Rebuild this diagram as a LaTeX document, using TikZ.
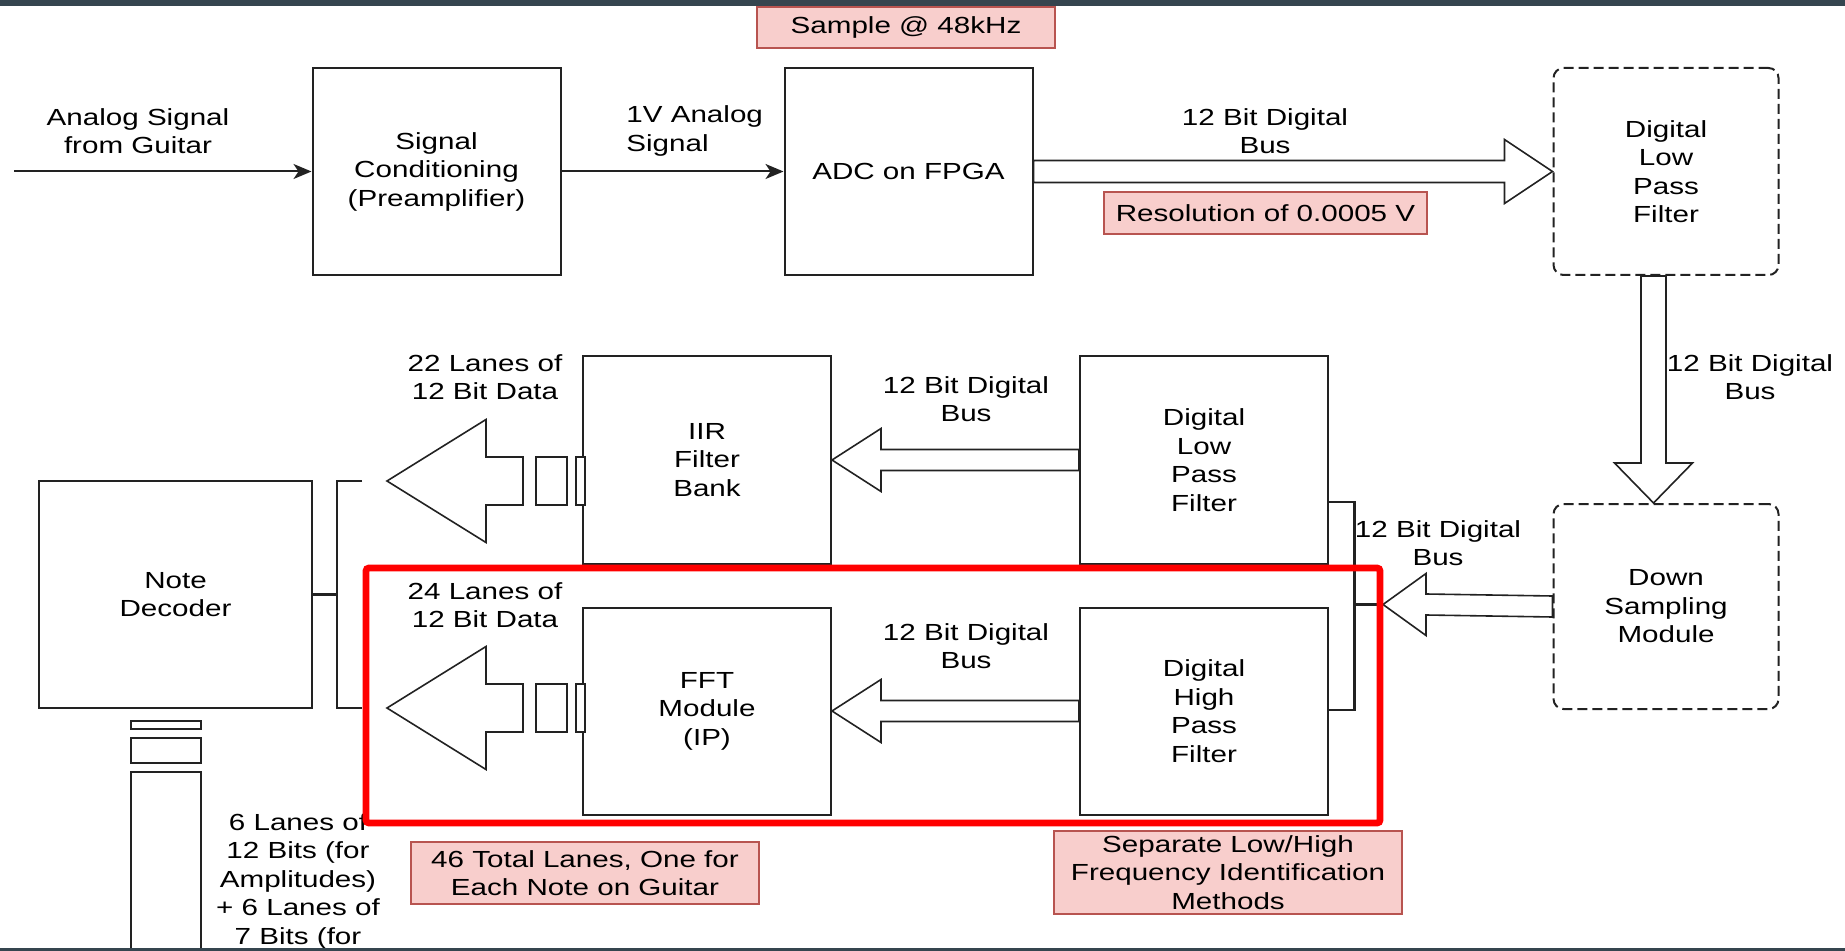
\documentclass[tikz,border=0pt]{standalone}
\usepackage{fontspec}
\setmainfont{Liberation Sans}[FakeStretch=1.27]
\usetikzlibrary{arrows.meta,positioning,calc}
\definecolor{notefill}{HTML}{F8CECC}
\definecolor{noteline}{HTML}{B85450}
\definecolor{barcol}{HTML}{35454F}
\definecolor{inkcol}{HTML}{222222}
\tikzset{
  block/.style ={rectangle,draw=inkcol,line width=1pt,fill=white,minimum width=124pt,
                 minimum height=103.5pt,align=center,inner sep=1pt},
  dblock/.style={block,minimum width=112.5pt,rounded corners=5pt,
                 dash pattern=on 5pt off 2.5pt},
  remark/.style={rectangle,draw=noteline,line width=0.8pt,fill=notefill,
                 align=center,inner sep=1pt},
  lbl/.style   ={align=center,inner sep=0pt},
  arr/.style   ={-{Stealth[length=9pt,width=7.5pt,inset=2.5pt]},line width=1pt,draw=inkcol},
  bus/.style   ={draw=inkcol,line width=0.8pt,fill=white,line join=miter},
  brk/.style   ={draw=inkcol,line width=1.4pt},
  hilite/.style={draw=red,line width=3.4pt,rounded corners=1.5pt}
}
\begin{document}
\begin{tikzpicture}[x=0.5pt,y=-0.5pt,font=\fontsize{11.65pt}{14.25pt}\selectfont]
  \useasboundingbox[fill=white] (0,0) rectangle (1845,951);

  % Nodes
  \node (sc)   [block] at (436.5,171.5)       {Signal\\Conditioning\\(Preamplifier)};
  \node (adc)  [block, right=111pt of sc]     {ADC on FPGA};
  \node (lpfa) [dblock, right=259.5pt of adc] {Digital\\Low\\Pass\\Filter};
  \node (down) [dblock, minimum height=102.5pt, below=113.5pt of lpfa] {Down\\Sampling\\Module};
  \node (lpfb) [block] at (1204,460)          {Digital\\Low\\Pass\\Filter};
  \node (hpf)  [block, below=21pt of lpfb]    {Digital\\High\\Pass\\Filter};
  \node (iir)  [block, left=123.5pt of lpfb]  {IIR\\Filter\\Bank};
  \node (fft)  [block, left=123.5pt of hpf]   {FFT\\Module\\(IP)};
  \node (dec)  [block, minimum width=136.5pt, minimum height=113.5pt] at (175.5,594.5) {Note\\Decoder};

  % Remarks
  \node (rate) [remark, minimum width=149pt, minimum height=20.5pt] at (906,27.5) {Sample @ 48kHz};
  \node (res)  [remark, minimum width=161.5pt, minimum height=21pt] at (1265.5,213) {Resolution of 0.0005 V};
  \node (tot)  [remark, minimum width=174pt, minimum height=31pt] at (585,873) {46 Total Lanes, One for\\Each Note on Guitar};
  \node (sep)  [remark, minimum width=174pt, minimum height=41.5pt] at (1228,872.5) {Separate Low/High\\Frequency Identification\\Methods};

  % Labels
  \node (inl) [lbl] at (138,131) {Analog Signal\\from Guitar};
  \node (vl)  [lbl, align=left, anchor=west] at (626,131) {1V Analog\\Signal};
  \node (b1)  [lbl] at (1265,131) {12 Bit Digital\\Bus};
  \node (b2)  [lbl] at (1750,377) {12 Bit Digital\\Bus};
  \node (b3)  [lbl] at (1438,543) {12 Bit Digital\\Bus};
  \node (b4)  [lbl] at (966,399)  {12 Bit Digital\\Bus};
  \node (b5)  [lbl] at (966,646)  {12 Bit Digital\\Bus};
  \node (l22) [lbl] at (485,377)  {22 Lanes of\\12 Bit Data};
  \node (l24) [lbl] at (485,605)  {24 Lanes of\\12 Bit Data};
  \node (amp) [lbl] at (298,881)  {6 Lanes of\\12 Bits (for\\Amplitudes)\\+ 6 Lanes of\\7 Bits (for};

  \coordinate (src) at (14,171.5);
  \coordinate (ta)  at (387,481);
  \coordinate (tb)  at (387,708);
  \coordinate (rj)  at (1383,604.5);

  % Arrows
  \draw [arr] (src) -- (sc);
  \draw [arr] (sc) -- (adc);
  \draw [bus] ($(adc.east)+(0,-11)$) -- ($(lpfa.west)+(-48,-11)$) -- ++(0,-21) -- (lpfa.west)
              -- ++(-48,32) -- ++(0,-21) -- ($(adc.east)+(0,11)$) -- cycle;
  \draw [bus] ($(lpfa.south)+(-25,0)$) -- ($(down.north)+(-25,-40)$) -- ++(-26.5,0)
              -- ($(down.north)+(-12.5,0)$) -- ++(39,-40) -- ++(-26.5,0) -- (lpfa.south) -- cycle;
  \draw [bus] ($(down.west)+(0,-10.5)$) -- ($(rj)+(43,-10.5)$) -- ++(0,-20.5) -- (rj)
              -- ++(43,31) -- ++(0,-20.5) -- ($(down.west)+(0,10.5)$) -- cycle;
  \draw [bus] ($(lpfb.west)+(0,-10.5)$) -- ($(iir.east)+(49,-10.5)$) -- ++(0,-21) -- (iir.east)
              -- ++(49,31.5) -- ++(0,-21) -- ($(lpfb.west)+(0,10.5)$) -- cycle;
  \draw [bus] ($(hpf.west)+(0,-10.5)$) -- ($(fft.east)+(49,-10.5)$) -- ++(0,-21) -- (fft.east)
              -- ++(49,31.5) -- ++(0,-21) -- ($(hpf.west)+(0,10.5)$) -- cycle;
  % lanes out of the filter banks
  \draw [bus] (ta) -- ++(99,-61.5) -- ++(0,37.5) -- ++(37,0) -- ++(0,48) -- ++(-37,0) -- ++(0,37.5) -- cycle;
  \draw [bus] ($(ta)+(149,-24)$) rectangle ++(31,48);
  \draw [bus] ($(ta)+(189,-24)$) rectangle ++(9,48);
  \draw [bus] (tb) -- ++(99,-61.5) -- ++(0,37.5) -- ++(37,0) -- ++(0,48) -- ++(-37,0) -- ++(0,37.5) -- cycle;
  \draw [bus] ($(tb)+(149,-24)$) rectangle ++(31,48);
  \draw [bus] ($(tb)+(189,-24)$) rectangle ++(9,48);
  \draw [bus] ($(dec.south)+(-44.5,12)$) rectangle ++(70,8);
  \draw [bus] ($(dec.south)+(-44.5,29)$) rectangle ++(70,25);
  \draw [bus] ($(dec.south)+(-44.5,63)$) rectangle ++(70,180);

  % Brackets
  \draw [brk] (dec.east) -- ++(24.5,0);
  \draw [brk] ($(ta)+(-25,0)$) -- ++(-25,0) |- ($(tb)+(-25,0)$);
  \draw [brk] ($(lpfb.east)+(0,42)$) -- ++(25.5,0) |- ($(hpf.east)+(0,-1)$);
  \draw [brk] (rj) -- ++(-30.5,0);

  \draw [hilite] (366,568) rectangle (1380,823);
  \fill [barcol] (0,0) rectangle (1845,6);
  \fill [barcol] (0,948) rectangle (1845,951);
\end{tikzpicture}
\end{document}
